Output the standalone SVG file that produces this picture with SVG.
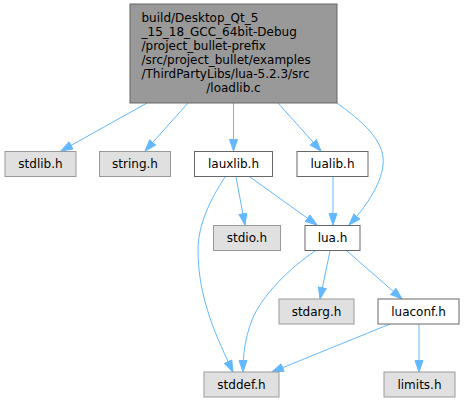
<svg xmlns="http://www.w3.org/2000/svg" width="465" height="403" viewBox="0 0 465 403">
<style>
text{font-family:"DejaVu Sans","Liberation Sans",sans-serif;font-size:12px;fill:#000}
.c{text-anchor:middle}
.main{fill:#999999;stroke:#666666;stroke-width:1}
.sys{fill:#e0e0e0;stroke:#999999;stroke-width:1}
.inc{fill:#ffffff;stroke:#666666;stroke-width:1}
.e{fill:none;stroke:#63b8ff;stroke-width:1;marker-end:url(#ah)}
</style>
<defs>
<marker id="ah" markerUnits="userSpaceOnUse" markerWidth="14" markerHeight="11" refX="12" refY="4.5" orient="auto">
<path d="M0.5,0.5 L12,4.5 L0.5,8.5 z" fill="#63b8ff" stroke="#63b8ff" stroke-width="1"/>
</marker>
</defs>
<rect width="465" height="403" fill="#ffffff"/>
<g id="edges">
<path class="e" d="M147,103 L61,151"/>
<path class="e" d="M188,103 L145,151"/>
<path class="e" d="M233.5,103 L233.5,151"/>
<path class="e" d="M278,103 L321,151"/>
<path class="e" d="M337,103 C360,120 386,140 383,165 C381,185 365,208 349,225"/>
<path class="e" d="M236,177 L245,225"/>
<path class="e" d="M250,177 L317,225"/>
<path class="e" d="M225,177 C210,200 198,225 198,250 C198,300 218,340 233,372"/>
<path class="e" d="M333,177 L333,225"/>
<path class="e" d="M315,251 C290,268 262,295 252,320 C245,338 243,355 243,372"/>
<path class="e" d="M330,251 L320,299"/>
<path class="e" d="M347,251 L402,299"/>
<path class="e" d="M390,324 L272,372"/>
<path class="e" d="M419,324 L419,372"/>
</g>
<g id="loadlib">
<rect class="main" x="130" y="4" width="207" height="99"/>
<text x="141.5" y="21.5">build/Desktop_Qt_5</text>
<text x="141.5" y="35.5">_15_18_GCC_64bit-Debug</text>
<text x="141.5" y="49.5">/project_bullet-prefix</text>
<text x="141.5" y="63.5">/src/project_bullet/examples</text>
<text x="141.5" y="77.5">/ThirdPartyLibs/lua-5.2.3/src</text>
<text class="c" x="233.5" y="91.5">/loadlib.c</text>
</g>
<g id="stdlib">
<rect class="sys" x="5" y="151.5" width="71" height="25"/>
<text class="c" x="40.5" y="168">stdlib.h</text>
</g>
<g id="string">
<rect class="sys" x="99.5" y="151.5" width="71" height="25"/>
<text class="c" x="135" y="168">string.h</text>
</g>
<g id="lauxlib">
<rect class="inc" x="194.5" y="151.5" width="78" height="25"/>
<text class="c" x="233.5" y="168">lauxlib.h</text>
</g>
<g id="lualib">
<rect class="inc" x="297" y="151.5" width="71" height="25"/>
<text class="c" x="332.5" y="168">lualib.h</text>
</g>
<g id="stdio">
<rect class="sys" x="213.5" y="225.5" width="67" height="25"/>
<text class="c" x="247" y="242">stdio.h</text>
</g>
<g id="lua">
<rect class="inc" x="305" y="225.5" width="55" height="25"/>
<text class="c" x="332.5" y="242">lua.h</text>
</g>
<g id="stdarg">
<rect class="sys" x="279" y="299" width="75" height="25"/>
<text class="c" x="316.5" y="315.5">stdarg.h</text>
</g>
<g id="luaconf">
<rect class="inc" x="378" y="299" width="81" height="25"/>
<text class="c" x="418.5" y="315.5">luaconf.h</text>
</g>
<g id="stddef">
<rect class="sys" x="204" y="372" width="75" height="25"/>
<text class="c" x="241.5" y="388.5">stddef.h</text>
</g>
<g id="limits">
<rect class="sys" x="384" y="372" width="71" height="25"/>
<text class="c" x="419.5" y="388.5">limits.h</text>
</g>
</svg>
